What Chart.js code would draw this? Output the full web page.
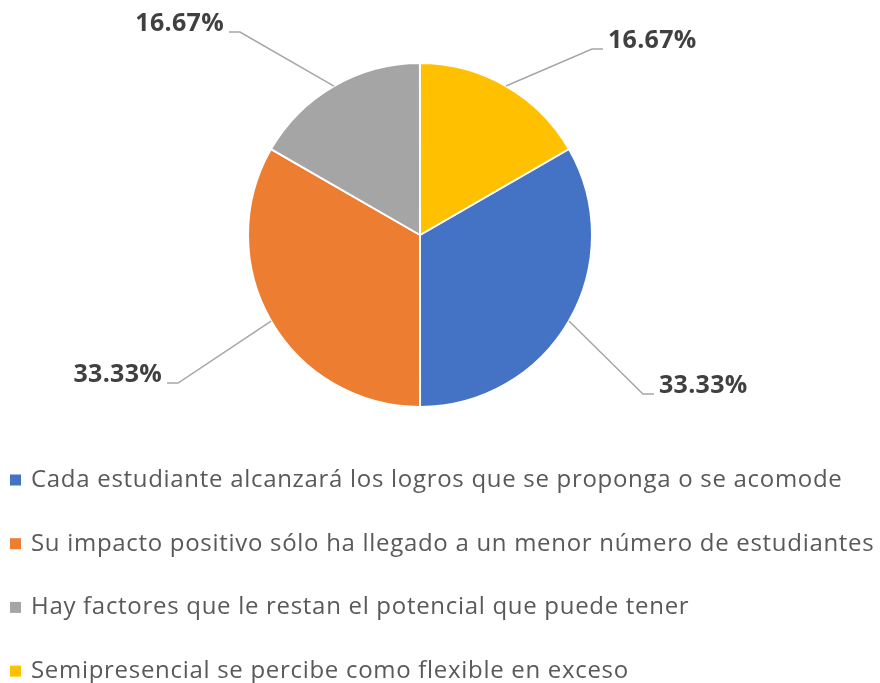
<!DOCTYPE html>
<html>
<head>
<meta charset="utf-8">
<script src="https://cdn.jsdelivr.net/npm/chart.js@4.4.0/dist/chart.umd.min.js"></script>
<style>
html,body{margin:0;padding:0;background:#fff;}
</style>
</head>
<body>
<canvas id="myChart" width="880" height="683"></canvas>
<script>
var categories = [
    "Cada estudiante alcanzará los logros que se proponga o se acomode",
    "Su impacto positivo sólo ha llegado a un menor número de estudiantes",
    "Hay factores que le restan el potencial que puede tener",
    "Semipresencial se percibe como flexible en exceso"
]
var values = [33.33, 33.33, 16.67, 16.67]
var colors = ["#4472C4", "#ED7D31", "#A5A5A5", "#FFC000"]

// leader line elbows, relative to the slice edge (px)
var labelOffsets = [[74, 73], [-93, 62], [-94, -54], [86, -37]]

var callouts = {
    id: "callouts",
    afterDatasetsDraw: function(chart, args, opts){
        var ctx = chart.ctx
        var meta = chart.getDatasetMeta(0)
        ctx.save()
        meta.data.forEach(function(arc, i){
            var p = arc.getProps(["x", "y", "startAngle", "endAngle", "outerRadius"], true)
            var mid = (p.startAngle + p.endAngle) / 2
            var ax = p.x + Math.cos(mid) * p.outerRadius
            var ay = p.y + Math.sin(mid) * p.outerRadius
            var off = opts.offsets[i]
            var ex = ax + off[0], ey = ay + off[1]
            var dir = off[0] < 0 ? -1 : 1
            var hx = ex + dir * opts.tail
            ctx.strokeStyle = opts.lineColor
            ctx.lineWidth = 1.5
            ctx.beginPath()
            ctx.moveTo(ax, ay)
            ctx.lineTo(ex, ey)
            ctx.lineTo(hx, ey)
            ctx.stroke()
            ctx.fillStyle = opts.color
            ctx.font = opts.font
            ctx.letterSpacing = opts.spacing
            ctx.textAlign = dir < 0 ? "right" : "left"
            ctx.textBaseline = "alphabetic"
            var v = chart.data.datasets[0].data[i]
            ctx.fillText(v.toFixed(2) + "%", hx + dir * opts.gap, ey - 1)
        })
        ctx.restore()
    }
}

var listLegend = {
    id: "listLegend",
    afterDraw: function(chart, args, opts){
        var ctx = chart.ctx
        ctx.save()
        ctx.font = opts.font
        ctx.letterSpacing = opts.spacing
        ctx.textBaseline = "middle"
        ctx.textAlign = "left"
        chart.data.labels.forEach(function(lab, i){
            var y = opts.top + i * opts.step
            ctx.fillStyle = chart.data.datasets[0].backgroundColor[i]
            ctx.fillRect(opts.left, y - opts.box / 2, opts.box, opts.box)
            ctx.fillStyle = opts.color
            ctx.fillText(lab, opts.left + opts.box + opts.gap, y)
        })
        ctx.restore()
    }
}

var chart = new Chart(document.getElementById("myChart").getContext("2d"), {
    type: "pie",
    data: {
        labels: categories,
        datasets: [{
            data: values,
            backgroundColor: colors,
            borderColor: "#ffffff",
            borderWidth: 2
        }]
    },
    options: {
        responsive: false,
        animation: false,
        rotation: 60,
        layout: {padding: {top: 62, bottom: 275, left: 0, right: 40}},
        plugins: {
            legend: {display: false},
            tooltip: {enabled: false},
            callouts: {
                offsets: labelOffsets,
                tail: 11,
                gap: 5,
                lineColor: "#A6A6A6",
                color: "#404040",
                font: "bold 25px 'Open Sans'",
                spacing: "0.3px"
            },
            listLegend: {
                left: 10,
                top: 480,
                step: 63.7,
                box: 11,
                gap: 10,
                color: "#595959",
                font: "24px 'Open Sans'",
                spacing: "0.7px"
            }
        }
    },
    plugins: [callouts, listLegend]
})
</script>
</body>
</html>
